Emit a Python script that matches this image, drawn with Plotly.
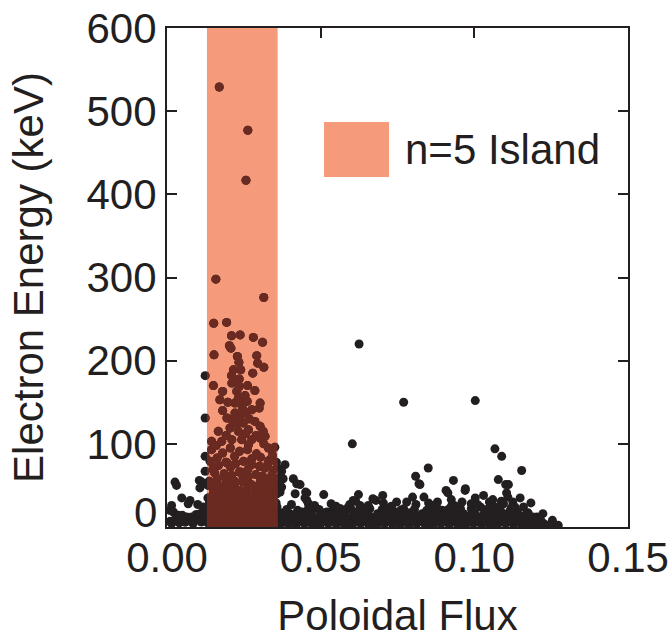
import plotly.graph_objects as go

# Island region in poloidal flux
island_lo = 0.013
island_hi = 0.036
island_label = "n=5 Island"

x_range = [0.0, 0.15]
y_range = [0, 600]
x_ticks = [0.0, 0.05, 0.10, 0.15]
y_ticks = [100, 200, 300, 400, 500, 600]

# High-energy electrons (above ~100 keV), mostly inside the island
flux_high = [0.0170, 0.0263, 0.0257, 0.0159, 0.0315, 0.0152, 0.0194, 0.0210, 0.0238, 0.0281,
             0.0311, 0.0153, 0.0203, 0.0208, 0.0229, 0.0234, 0.0292, 0.0295, 0.0315, 0.0216,
             0.0240, 0.0210, 0.0235, 0.0124, 0.0151, 0.0181, 0.0211, 0.0235, 0.0227, 0.0286,
             0.0172, 0.0181, 0.0254, 0.0261, 0.0221, 0.0238, 0.0303, 0.0300, 0.0276, 0.0221,
             0.0238, 0.0211, 0.0248, 0.0286, 0.0303, 0.0313, 0.0167, 0.0205, 0.0232, 0.0265,
             0.0145, 0.0178, 0.0211, 0.0243, 0.0276, 0.0303, 0.0319, 0.0330, 0.0351, 0.0145,
             0.0258, 0.0268, 0.0195, 0.0228, 0.0290, 0.0255, 0.0193, 0.0160, 0.0265, 0.0315,
             0.0245, 0.0262, 0.0279, 0.0198, 0.0232, 0.0124,
             0.0625, 0.0770, 0.1003, 0.0603, 0.1067, 0.1089]
energy_high = [529, 477, 417, 298, 276, 245, 246, 230, 231, 228,
               222, 207, 218, 215, 205, 198, 206, 197, 192, 189,
               189, 182, 178, 182, 170, 163, 173, 169, 163, 164,
               153, 140, 158, 151, 149, 149, 149, 143, 141, 137,
               133, 129, 125, 127, 121, 115, 115, 119, 115, 117,
               103, 103, 105, 105, 105, 107, 109, 95, 96, 93,
               138, 130, 131, 124, 110, 112, 110, 98, 99, 100,
               143, 170, 185, 150, 155, 131,
               220, 150, 152, 100, 94, 85]

# Island core below ~95 keV
flux_core = [0.0181, 0.0236, 0.0291, 0.0343, 0.0206, 0.0262,
             0.0163, 0.0220, 0.0276, 0.0332, 0.0192, 0.0304,
             0.0140, 0.0167, 0.0196, 0.0223, 0.0249, 0.0276, 0.0301, 0.0329, 0.0356,
             0.0150, 0.0207, 0.0263, 0.0318, 0.0345, 0.0235,
             0.0155, 0.0186, 0.0210, 0.0239, 0.0264, 0.0289, 0.0311, 0.0341,
             0.0163, 0.0192, 0.0248, 0.0304, 0.0332, 0.0220,
             0.0137, 0.0164, 0.0193, 0.0219, 0.0247, 0.0274, 0.0297, 0.0326, 0.0352,
             0.0150, 0.0178, 0.0207, 0.0235, 0.0263, 0.0290, 0.0318, 0.0345,
             0.0151, 0.0177, 0.0206, 0.0231, 0.0258, 0.0284, 0.0310, 0.0337,
             0.0163, 0.0192, 0.0220, 0.0248, 0.0276, 0.0304, 0.0332,
             0.0139, 0.0165, 0.0192, 0.0221, 0.0245, 0.0272, 0.0299, 0.0322, 0.0350,
             0.0150, 0.0178, 0.0207, 0.0235, 0.0263, 0.0290, 0.0318, 0.0345,
             0.0153, 0.0180, 0.0207, 0.0234, 0.0261, 0.0285, 0.0313, 0.0339,
             0.0163, 0.0192, 0.0220, 0.0248, 0.0276, 0.0304, 0.0332,
             0.0138, 0.0167, 0.0194, 0.0220, 0.0248, 0.0275, 0.0300, 0.0327, 0.0354,
             0.0150, 0.0178, 0.0207, 0.0235, 0.0263, 0.0290, 0.0318, 0.0345,
             0.0150, 0.0178, 0.0205, 0.0233, 0.0259, 0.0287, 0.0313, 0.0342,
             0.0163, 0.0192, 0.0220, 0.0248, 0.0276, 0.0304, 0.0332,
             0.0139, 0.0166, 0.0193, 0.0221, 0.0247, 0.0273, 0.0301, 0.0326, 0.0353,
             0.0150, 0.0178, 0.0207, 0.0235, 0.0263, 0.0290, 0.0318, 0.0345,
             0.0152, 0.0179, 0.0206, 0.0232, 0.0260, 0.0287, 0.0314, 0.0341,
             0.0163, 0.0192, 0.0220, 0.0248, 0.0276, 0.0304, 0.0332,
             0.0138, 0.0165, 0.0192, 0.0219, 0.0246, 0.0273, 0.0300, 0.0327, 0.0355,
             0.0150, 0.0178, 0.0207, 0.0235, 0.0263, 0.0290, 0.0318, 0.0345,
             0.0124, 0.0124,
             0.0133, 0.0133, 0.0133, 0.0133, 0.0358, 0.0358, 0.0358, 0.0358, 0.0358]
energy_core = [89, 91, 88, 86, 95, 93,
               83, 85, 82, 80, 78, 84,
               79, 74, 77, 76, 79, 75, 73, 77, 78,
               70, 72, 69, 71, 68, 66,
               65, 64, 62, 66, 60, 63, 61, 62,
               58, 57, 59, 56, 57, 55,
               55, 52, 53, 50, 54, 51, 50, 52, 49,
               47, 45, 46, 44, 47, 45, 46, 44,
               41, 42, 40, 41, 40, 39, 41, 39,
               36, 37, 35, 36, 37, 35, 36,
               32, 33, 31, 33, 32, 31, 33, 32, 30,
               28, 29, 27, 28, 29, 27, 28, 29,
               24, 25, 23, 25, 24, 23, 24, 25,
               20, 21, 19, 20, 21, 19, 20,
               16, 17, 15, 17, 16, 15, 17, 16, 15,
               12, 13, 11, 12, 13, 11, 12, 13,
               9, 9, 8, 10, 9, 8, 9, 10,
               6, 6, 5, 6, 7, 5, 6,
               3, 3, 2, 4, 3, 2, 3, 3, 2,
               1, 0, 1, 0, 1, 0, 1, 0,
               14, 13, 15, 14, 13, 15, 14, 13,
               22, 23, 22, 21, 23, 22, 21,
               30, 31, 29, 30, 31, 29, 30, 31, 29,
               38, 37, 39, 38, 37, 39, 38, 37,
               85, 67,
               5, 20, 35, 50, 8, 24, 40, 56, 72]

# Low-energy electrons outside the island
flux_low = [0.0026, 0.0031, 0.0105, 0.0113, 0.0107, 0.0048, 0.0075, 0.0069, 0.0010, 0.0021,
            0.0037, 0.0064, 0.0080, 0.0107, 0.0118, 0.0015, 0.0040, 0.0058, 0.0085, 0.0112,
            0.0028, 0.0052, 0.0096, 0.0123,
            0.0010, 0.0035, 0.0060, 0.0085, 0.0110, 0.0050, 0.0095, 0.0120, 0.0015, 0.0100,
            0.1154, 0.0850, 0.0809, 0.0820, 0.0932, 0.0908, 0.0971, 0.1003, 0.0510, 0.0451,
            0.0433, 0.0623, 0.0606, 0.0702, 0.0704, 0.0680, 0.0799, 0.0836, 0.0851, 0.0747,
            0.0780, 0.0534, 0.0455, 0.0473, 0.1078, 0.1111, 0.1105, 0.1149, 0.1184, 0.1223,
            0.1254, 0.1273, 0.1049, 0.1088, 0.1132, 0.1170, 0.1203, 0.0384, 0.0373, 0.0368,
            0.0378, 0.0411, 0.0422, 0.0417, 0.0373, 0.0368, 0.0455, 0.0449, 0.0460, 0.0482,
            0.0614, 0.0628, 0.0670, 0.0823, 0.0914, 0.0935, 0.0970, 0.1102, 0.1109, 0.0565,
            0.0590, 0.0650, 0.0720, 0.0760, 0.0870, 0.0895, 0.0955, 0.1020, 0.1060, 0.1160,
            0.0520, 0.0545,
            0.0880, 0.0925, 0.0960, 0.1030, 0.1060, 0.1095, 0.1125, 0.0990,
            0.0370, 0.0395, 0.0420, 0.0447, 0.0472, 0.0498, 0.0525, 0.0551, 0.0578, 0.0603,
            0.0630, 0.0657, 0.0682, 0.0708, 0.0735, 0.0760, 0.0787, 0.0813, 0.0840, 0.0866,
            0.0892, 0.0918, 0.0945, 0.0971, 0.0997, 0.1023, 0.1050, 0.1076, 0.1102, 0.1128,
            0.1155, 0.1180, 0.1205, 0.1232, 0.1258,
            0.0383, 0.0410, 0.0436, 0.0462, 0.0489, 0.0515, 0.0541, 0.0568, 0.0594, 0.0620,
            0.0647, 0.0673, 0.0699, 0.0726, 0.0752, 0.0778, 0.0805, 0.0831, 0.0857, 0.0884,
            0.0910, 0.0936, 0.0963, 0.0989, 0.1015, 0.1042, 0.1068, 0.1094, 0.1121, 0.1147,
            0.1173, 0.1200, 0.1226, 0.1250,
            0.0382, 0.0408, 0.0433, 0.0460, 0.0486, 0.0512, 0.0538, 0.0565, 0.0590, 0.0616,
            0.0643, 0.0670, 0.0695, 0.0722, 0.0748, 0.0774, 0.0800, 0.0826, 0.0853, 0.0880,
            0.0905, 0.0931, 0.0958, 0.0984, 0.1010, 0.1036, 0.1063, 0.1089, 0.1115, 0.1141,
            0.1168, 0.1193, 0.1218,
            0.0371, 0.0397, 0.0423, 0.0450, 0.0476, 0.0502, 0.0529, 0.0555, 0.0581, 0.0608,
            0.0634, 0.0660, 0.0687, 0.0713, 0.0739, 0.0766, 0.0792, 0.0818, 0.0845, 0.0871,
            0.0897, 0.0924, 0.0950, 0.0976, 0.1003, 0.1029, 0.1055, 0.1082, 0.1108, 0.1134,
            0.1161, 0.1187, 0.1212,
            0.0376, 0.0400, 0.0440, 0.0470, 0.0505, 0.0530, 0.0575, 0.0610, 0.0640, 0.0685,
            0.0715, 0.0755, 0.0790, 0.0830, 0.0860, 0.0900, 0.0940, 0.0965, 0.1000, 0.1030,
            0.1070, 0.1100, 0.1125, 0.1150, 0.1190,
            0.0390, 0.0425, 0.0460, 0.0495, 0.0540, 0.0560, 0.0600, 0.0625, 0.0660, 0.0700,
            0.0735, 0.0770, 0.0805, 0.0845, 0.0880, 0.0915, 0.0950, 0.0990, 0.1040, 0.1085,
            0.1115, 0.1140, 0.1175,
            0.0405, 0.0480, 0.0550, 0.0595, 0.0655, 0.0730, 0.0810, 0.0865, 0.0925, 0.1010,
            0.1070, 0.1120]
energy_low = [54, 50, 56, 54, 47, 35, 32, 28, 20, 18,
              14, 12, 12, 16, 24, 4, 5, 6, 4, 6,
              10, 11, 9, 8,
              7, 8, 6, 8, 7, 14, 15, 13, 26, 27,
              68, 71, 61, 52, 56, 44, 46, 35, 39, 42,
              51, 39, 32, 38, 29, 32, 36, 36, 29, 30,
              30, 28, 32, 22, 57, 51, 41, 35, 29, 16,
              8, 2, 30, 31, 24, 16, 12, 75, 67, 60,
              58, 58, 52, 40, 48, 42, 41, 35, 28, 24,
              31, 26, 34, 51, 41, 26, 44, 51, 36, 22,
              24, 21, 22, 20, 23, 20, 22, 24, 22, 24,
              18, 20,
              30, 33, 30, 38, 33, 28, 30, 28,
              3, 4, 2, 4, 3, 2, 4, 3, 3, 2,
              4, 3, 2, 4, 3, 3, 2, 4, 3, 2,
              4, 3, 3, 2, 4, 3, 2, 3, 4, 3,
              2, 3, 2, 2, 1,
              7, 6, 7, 8, 6, 7, 7, 6, 8, 7,
              6, 7, 8, 6, 7, 7, 6, 8, 7, 6,
              7, 8, 6, 7, 7, 6, 8, 7, 6, 7,
              6, 5, 4, 3,
              10, 11, 9, 11, 10, 9, 11, 10, 9, 11,
              10, 9, 11, 10, 9, 11, 10, 10, 9, 11,
              10, 9, 11, 10, 9, 11, 10, 9, 10, 9,
              9, 8, 7,
              14, 13, 15, 14, 13, 14, 15, 13, 14, 14,
              15, 13, 14, 14, 13, 15, 14, 13, 14, 15,
              13, 14, 14, 13, 15, 14, 13, 14, 12, 13,
              12, 11, 10,
              17, 16, 18, 15, 17, 16, 18, 15, 17, 16,
              18, 15, 17, 16, 18, 15, 17, 16, 17, 15,
              16, 15, 14, 13, 12,
              21, 20, 22, 21, 20, 22, 21, 20, 22, 21,
              20, 22, 21, 20, 22, 21, 20, 22, 21, 20,
              19, 18, 17,
              27, 26, 25, 27, 26, 25, 27, 26, 25, 27,
              24, 23]

flux = flux_high + flux_core + flux_low
energy = energy_high + energy_core + energy_low

ink = "#231F20"
dot_in_island = "#6B2A21"
island_fill = "#F59A7B"
font_family = "Liberation Sans, Arial, Helvetica, sans-serif"
fsize = 42
dot = 9

fig = go.Figure()

# All electrons in dark ink
fig.add_trace(go.Scatter(
    x=flux, y=energy, mode="markers",
    marker=dict(size=dot, color=ink, line=dict(width=0)),
    showlegend=False, hoverinfo="x+y"))

# Same electrons on an axis spanning only the island, so markers are clipped
# to the island band and drawn in the darker island tone
fig.add_trace(go.Scatter(
    x=flux, y=energy, mode="markers", xaxis="x2", yaxis="y",
    marker=dict(size=dot, color=dot_in_island, line=dict(width=0)),
    showlegend=False, hoverinfo="skip"))

# Island band
fig.add_shape(type="rect", xref="x", yref="paper",
              x0=island_lo, x1=island_hi, y0=0, y1=1,
              fillcolor=island_fill, line=dict(width=0), layer="below")

# Legend swatch and label
fig.add_shape(type="rect", xref="paper", yref="paper",
              x0=0.3406, x1=0.4816, y0=0.7014, y1=0.8116,
              fillcolor=island_fill, line=dict(width=0), layer="above")
fig.add_annotation(xref="paper", yref="paper", x=0.5120, y=0.7565,
                   xanchor="left", yanchor="middle", showarrow=False,
                   text=island_label, font=dict(family=font_family, size=fsize, color=ink))

# Zero label sits slightly above the bottom axis line
fig.add_annotation(xref="paper", yref="y", x=0, y=0, xanchor="right", yanchor="middle",
                   xshift=-8, yshift=15, showarrow=False, text="0",
                   font=dict(family=font_family, size=fsize, color=ink))

span = x_range[1] - x_range[0]
axis_style = dict(showgrid=False, zeroline=False, ticks="inside", ticklen=10, tickwidth=2,
                  tickcolor=ink, showline=True, linewidth=2, linecolor=ink, mirror="ticks",
                  automargin=False,
                  tickfont=dict(family=font_family, size=fsize, color=ink))

fig.update_layout(
    width=671, height=639,
    margin=dict(l=167, r=43, t=28, b=112),
    paper_bgcolor="white", plot_bgcolor="rgba(0,0,0,0)",
    font=dict(family=font_family, size=fsize, color=ink),
    xaxis=dict(range=x_range, tickvals=x_ticks, tickformat=".2f",
               ticklabelstandoff=-7,
               title=dict(text="Poloidal Flux", standoff=44,
                          font=dict(family=font_family, size=fsize, color=ink)),
               **axis_style),
    xaxis2=dict(range=[island_lo, island_hi], anchor="y", visible=False,
                domain=[(island_lo - x_range[0]) / span, (island_hi - x_range[0]) / span]),
    yaxis=dict(range=y_range, tickvals=y_ticks, ticklabelstandoff=0,
               title=dict(text="Electron Energy (keV)", standoff=30,
                          font=dict(family=font_family, size=fsize, color=ink)),
               **axis_style),
)

fig.write_html("out.html")
